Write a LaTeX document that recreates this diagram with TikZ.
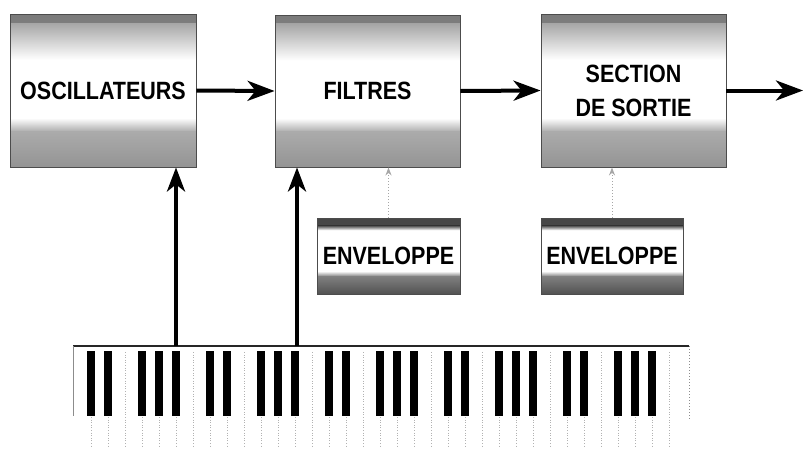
\documentclass[tikz,border=0pt]{standalone}
\usepackage{fontspec}
\newfontfamily\labelfont[FakeStretch=0.86]{Liberation Sans}
\usetikzlibrary{arrows.meta,calc}
\colorlet{gTop}{black!52}
\colorlet{gTopB}{black!35}
\colorlet{gBotA}{black!33}
\colorlet{gBot}{black!42}
\colorlet{eTop}{black!72}
\colorlet{eMid}{black!50}
\colorlet{eBot}{black!68}
\newcommand{\bandpart}[4]{% t1, t2, top colour, bottom colour
  \shade[top color=#3, bottom color=#4]
    ($(path picture bounding box.north west)!#1!(path picture bounding box.south west)$)
    rectangle
    ($(path picture bounding box.north east)!#2!(path picture bounding box.south east)$);}
\tikzset{
  lbl/.style={font=\labelfont\bfseries\fontsize{25}{34}\selectfont, text=black, align=center},
  mainbox/.style={lbl, draw=black!70, line width=0.9pt, fill=white, inner sep=0pt,
    path picture={
      \bandpart{0}{0.06}{gTop}{gTopB}
      \bandpart{0.059}{0.3}{gTopB}{white}
      \bandpart{0.68}{0.77}{white}{gBotA}
      \bandpart{0.769}{1}{gBotA}{gBot}
    }},
  envbox/.style={lbl, draw=black!70, line width=0.9pt, fill=white, inner sep=0pt, minimum height=76pt,
    path picture={
      \bandpart{0}{0.1}{eTop}{eTop}
      \bandpart{0.099}{0.16}{eTop}{white}
      \bandpart{0.7}{0.77}{white}{eMid}
      \bandpart{0.769}{1}{eMid}{eBot}
    }},
  flow/.style={line width=4pt, black, -{Stealth[length=27pt,width=20pt,inset=8pt]}},
  upflow/.style={line width=4pt, black, -{Stealth[length=24pt,width=18pt,inset=7pt]}},
  faint/.style={line width=1pt, black!35, dotted, -{Stealth[length=8pt,width=6pt]}},
  keysep/.style={line width=0.6pt, black!30, dotted},
  blackkey/.style={fill=black},
}
\begin{document}
\begin{tikzpicture}[x=1pt,y=-1pt]
\useasboundingbox (0,0) rectangle (807,448);
% main boxes
\node[mainbox, minimum width=186pt, minimum height=153pt] (osc) at (103,90.5) {OSCILLATEURS};
\node[mainbox, minimum width=185pt, minimum height=152pt] (fil) at (367.5,91) {FILTRES};
\node[mainbox, minimum width=185pt, minimum height=153pt] (sor) at (633.5,90.5) {SECTION\\DE SORTIE};
% envelope boxes
\node[envbox, minimum width=143pt] (env1) at (388.5,256) {ENVELOPPE};
\node[envbox, minimum width=142pt] (env2) at (612,256) {ENVELOPPE};
% flow arrows
\coordinate (out) at (803,90.5);
\draw[flow] (osc.east) -- (fil.west);
\draw[flow] (fil.east) -- (sor.west);
\draw[flow] (sor.east) -- (out);
% faint envelope connectors
\draw[faint] (env1.north) -- (fil.south -| env1.north);
\draw[faint] (env2.north) -- (sor.south -| env2.north);
% keyboard
\node[inner sep=0pt, minimum width=616pt, minimum height=102pt, anchor=north west] (kb) at (73,346) {};
\foreach \j in {1,...,35} {
  \draw[keysep] (74+17*\j, 352) -- (74+17*\j, 448);
}
\foreach \n in {0,...,4} {
  \foreach \k in {1,2,4,5,6} {
    \fill[blackkey] (74+17*\k+119*\n-4.4, 351) rectangle ++(8.8, 65);
  }
}
\draw[line width=2.5pt, black!85] (kb.north west) -- (kb.north east);
\draw[line width=1pt, black!45] (kb.north west) -- ++(0,70);
\draw[line width=1pt, black!45, dotted] (kb.north east) -- ++(0,74);
% key arrows
\coordinate (ka) at (176,346);
\coordinate (kc) at (297,346);
\draw[upflow] (ka) -- (osc.south -| ka);
\draw[upflow] (kc) -- (fil.south -| kc);
\end{tikzpicture}
\end{document}
